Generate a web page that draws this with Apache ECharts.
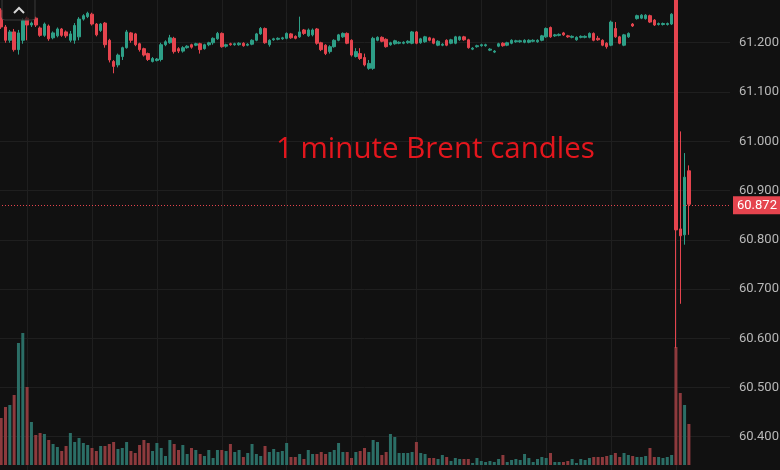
<!DOCTYPE html>
<html><head><meta charset="utf-8">
<script src="https://cdn.jsdelivr.net/npm/echarts@6/dist/echarts.min.js"></script>
<style>html,body{margin:0;padding:0;background:#111111;}#c{width:780px;height:470px;}</style>
</head><body><div id="c"></div>
<script>
// ---- data ----
const startTime = '09:39';
const slotCount = 169; // candle slots incl. empty right margin
// [open, close, low, high]
const candles = [
[61.266,61.232,61.228,61.270],[61.232,61.205,61.200,61.236],[61.205,61.222,61.200,61.226],[61.222,61.186,61.182,61.228],
[61.186,61.220,61.176,61.226],[61.205,61.245,61.198,61.250],[61.250,61.236,61.205,61.253],[61.236,61.240,61.232,61.243],
[61.250,61.236,61.232,61.253],[61.230,61.215,61.212,61.233],[61.215,61.238,61.212,61.241],[61.234,61.208,61.204,61.237],
[61.210,61.220,61.207,61.223],[61.214,61.228,61.211,61.231],[61.228,61.215,61.212,61.230],[61.222,61.214,61.210,61.225],
[61.205,61.218,61.201,61.224],[61.205,61.235,61.198,61.240],[61.212,61.248,61.205,61.252],[61.248,61.255,61.245,61.258],
[61.253,61.260,61.250,61.263],[61.258,61.238,61.235,61.261],[61.238,61.216,61.213,61.240],[61.225,61.238,61.222,61.240],
[61.240,61.196,61.190,61.242],[61.205,61.165,61.160,61.208],[61.162,61.152,61.138,61.165],[61.155,61.175,61.150,61.178],
[61.172,61.190,61.165,61.192],[61.190,61.222,61.188,61.226],[61.220,61.205,61.200,61.222],[61.218,61.196,61.193,61.220],
[61.198,61.186,61.182,61.200],[61.188,61.175,61.172,61.190],[61.178,61.166,61.163,61.180],[61.162,61.168,61.160,61.171],
[61.164,61.167,61.162,61.169],[61.166,61.196,61.162,61.200],[61.196,61.202,61.193,61.205],[61.200,61.210,61.198,61.216],
[61.209,61.182,61.178,61.212],[61.188,61.183,61.179,61.191],[61.183,61.190,61.180,61.193],[61.190,61.193,61.188,61.195],
[61.196,61.191,61.188,61.198],[61.195,61.198,61.193,61.200],[61.198,61.186,61.178,61.200],[61.188,61.196,61.186,61.198],
[61.196,61.200,61.193,61.202],[61.200,61.209,61.196,61.211],[61.208,61.219,61.206,61.222],[61.219,61.192,61.190,61.221],
[61.193,61.196,61.190,61.198],[61.198,61.196,61.194,61.200],[61.196,61.198,61.194,61.200],[61.196,61.199,61.194,61.201],
[61.199,61.194,61.192,61.201],[61.195,61.197,61.193,61.199],[61.197,61.205,61.195,61.207],[61.205,61.218,61.203,61.220],
[61.218,61.229,61.216,61.232],[61.229,61.200,61.198,61.231],[61.196,61.205,61.192,61.207],[61.206,61.208,61.204,61.210],
[61.207,61.209,61.205,61.211],[61.208,61.210,61.206,61.212],[61.209,61.219,61.207,61.221],[61.218,61.210,61.208,61.220],
[61.213,61.209,61.207,61.215],[61.212,61.222,61.210,61.253],[61.226,61.219,61.216,61.228],[61.214,61.226,61.212,61.229],
[61.216,61.226,61.213,61.229],[61.228,61.199,61.196,61.230],[61.200,61.186,61.183,61.202],[61.195,61.178,61.175,61.197],
[61.182,61.192,61.178,61.195],[61.192,61.205,61.190,61.207],[61.205,61.216,61.203,61.218],[61.212,61.219,61.210,61.221],
[61.219,61.199,61.197,61.221],[61.205,61.175,61.172,61.207],[61.172,61.182,61.170,61.189],[61.178,61.168,61.165,61.189],
[61.170,61.155,61.152,61.178],[61.148,61.158,61.145,61.165],[61.148,61.209,61.145,61.212],[61.205,61.211,61.203,61.213],
[61.211,61.203,61.201,61.213],[61.207,61.192,61.190,61.209],[61.196,61.200,61.194,61.202],[61.198,61.204,61.196,61.206],
[61.199,61.201,61.197,61.203],[61.199,61.201,61.197,61.203],[61.200,61.203,61.198,61.205],[61.199,61.222,61.197,61.224],
[61.222,61.199,61.197,61.224],[61.200,61.208,61.198,61.210],[61.202,61.212,61.200,61.214],[61.210,61.205,61.203,61.212],
[61.208,61.199,61.197,61.210],[61.195,61.203,61.193,61.205],[61.195,61.197,61.193,61.199],[61.205,61.195,61.193,61.207],
[61.199,61.206,61.197,61.208],[61.199,61.212,61.197,61.214],[61.206,61.212,61.204,61.214],[61.212,61.206,61.204,61.214],
[61.206,61.190,61.188,61.208],[61.187,61.189,61.185,61.191],[61.192,61.194,61.190,61.196],[61.194,61.196,61.192,61.198],
[61.194,61.196,61.192,61.198],[61.185,61.187,61.183,61.189],[61.181,61.183,61.179,61.185],[61.193,61.198,61.191,61.200],
[61.199,61.194,61.192,61.201],[61.195,61.200,61.193,61.202],[61.199,61.205,61.197,61.207],[61.202,61.204,61.200,61.206],
[61.202,61.204,61.200,61.206],[61.201,61.205,61.199,61.207],[61.201,61.205,61.199,61.207],[61.203,61.205,61.201,61.207],
[61.202,61.205,61.200,61.207],[61.205,61.214,61.203,61.216],[61.212,61.229,61.210,61.231],[61.231,61.212,61.210,61.233],
[61.214,61.216,61.212,61.218],[61.215,61.217,61.213,61.219],[61.220,61.216,61.214,61.222],[61.214,61.212,61.210,61.216],
[61.211,61.213,61.209,61.215],[61.206,61.211,61.204,61.213],[61.211,61.213,61.209,61.215],[61.211,61.213,61.209,61.215],
[61.211,61.219,61.209,61.221],[61.219,61.205,61.203,61.221],[61.209,61.206,61.204,61.214],[61.205,61.195,61.193,61.207],
[61.199,61.192,61.188,61.201],[61.195,61.242,61.193,61.245],[61.229,61.212,61.210,61.242],[61.212,61.199,61.197,61.214],
[61.195,61.216,61.193,61.218],[61.212,61.219,61.210,61.221],[61.238,61.234,61.232,61.240],[61.249,61.255,61.247,61.257],
[61.250,61.256,61.248,61.258],[61.249,61.256,61.247,61.258],[61.255,61.242,61.240,61.257],[61.246,61.236,61.234,61.248],
[61.237,61.239,61.235,61.241],[61.237,61.239,61.235,61.241],[61.237,61.239,61.235,61.241],[61.238,61.258,61.236,61.260],
[61.290,60.820,60.580,61.300],[60.822,60.808,60.670,61.020],[60.810,60.927,60.790,60.976],[60.940,60.872,60.810,60.951]
];
const volumes = [
47,58,60,70,122,132,78,43,30,32,31,25,21,18,14,19,32,23,27,22,
20,17,14,19,19,21,23,16,17,23,14,12,20,25,22,14,22,17,9,25,
21,15,20,11,17,15,11,9,15,7,15,15,14,21,13,15,8,12,21,11,
9,19,13,16,13,14,22,8,8,11,6,15,11,11,13,11,13,15,22,13,
13,7,13,14,17,13,25,23,10,13,31,28,12,12,12,13,23,12,11,7,
7,6,10,8,4,7,6,6,6,2,7,4,3,4,3,6,10,3,5,6,
5,11,7,3,6,8,7,12,3,3,3,4,6,2,6,5,7,8,8,8,
9,10,12,8,12,10,9,8,8,9,17,8,8,7,8,10,118,72,60,41
];
const priceMin = 60.3, priceMax = 61.3, priceStep = 0.1;
const lastPrice = 60.872;
const titleText = '1 minute Brent candles';

// ---- colours ----
const UP = '#2e9f87', DOWN = '#e5444e';
const UP_VOL = '#2b6e66', DOWN_VOL = '#8d3a3d';

// ---- categories (minute labels) ----
const times = [];
let [hh, mm] = startTime.split(':').map(Number);
for (let k = 0; k < slotCount; k++) {
  times.push(String(hh).padStart(2, '0') + ':' + String(mm).padStart(2, '0'));
  mm++; if (mm === 60) { mm = 0; hh++; }
}
const gridTimes = times.filter(t => Number(t.slice(3)) % 15 === 0);

const volData = volumes.map((v, k) => ({
  value: v,
  itemStyle: { color: candles[k][1] >= candles[k][0] ? UP_VOL : DOWN_VOL }
}));

const chart = echarts.init(document.getElementById('c'), null, { renderer: 'canvas' });
chart.setOption({
  animation: false,
  backgroundColor: '#111111',
  title: {
    text: titleText, left: 271, top: 130,
    textStyle: { color: '#e3161d', fontSize: 29.5, fontWeight: 'normal', fontFamily: 'Open Sans' }
  },
  grid: [
    { left: -1, right: 50, top: -6.5, bottom: -16, outerBoundsMode: 'none', containLabel: false },
    { left: -1, right: 50, top: 185, bottom: 5, outerBoundsMode: 'none', containLabel: false }
  ],
  xAxis: [
    { type: 'category', data: times, gridIndex: 0, boundaryGap: true, show: false },
    { type: 'category', data: times, gridIndex: 1, boundaryGap: true, show: false }
  ],
  yAxis: [
    {
      type: 'value', gridIndex: 0, position: 'right', min: priceMin, max: priceMax, interval: priceStep,
      axisLine: { show: false }, axisTick: { show: false },
      splitLine: { show: true, lineStyle: { color: '#1f1f1f', width: 1 } },
      axisLabel: {
        color: '#b8b8b8', fontSize: 13, fontFamily: 'Roboto', margin: 9,
        showMinLabel: false, showMaxLabel: false,
        formatter: v => v.toFixed(3)
      }
    },
    { type: 'value', gridIndex: 1, min: 0, max: 280, show: false, splitLine: { show: false } }
  ],
  graphic: [
    { type: 'rect', z: 100, shape: { x: 2, y: -3, width: 33, height: 23, r: 3 },
      style: { fill: 'rgba(18,18,18,0.7)', stroke: '#3a3a3a', lineWidth: 1 } },
    { type: 'polyline', z: 101, shape: { points: [[14, 13], [19, 8], [24, 13]] },
      style: { stroke: '#d6d6d6', lineWidth: 2, fill: null } }
  ],
  series: [
    {
      name: 'grid', type: 'line', data: [], xAxisIndex: 0, yAxisIndex: 0, z: 0, silent: true,
      markLine: {
        z: 0, silent: true, symbol: ['none', 'none'], label: { show: false },
        lineStyle: { color: '#1f1f1f', type: 'solid', width: 1 },
        emphasis: { disabled: true },
        data: gridTimes.map(t => ({ xAxis: t }))
      }
    },
    {
      name: 'volume', type: 'bar', xAxisIndex: 1, yAxisIndex: 1, barWidth: 3, data: volData, z: 1,
      markLine: {
        silent: true, symbol: ['none', 'none'],
        lineStyle: { opacity: 0 },
        label: {
          position: 'end', distance: 3, formatter: String(volumes[volumes.length - 1]),
          backgroundColor: DOWN, color: '#ffffff', padding: [2, 7, 2, 7], fontSize: 13, fontFamily: 'Roboto'
        },
        data: [{ yAxis: volumes[volumes.length - 1] }]
      }
    },
    {
      name: 'Brent', type: 'candlestick', xAxisIndex: 0, yAxisIndex: 0, barWidth: 3, data: candles, z: 2,
      itemStyle: { color: UP, color0: DOWN, borderColor: UP, borderColor0: DOWN, borderWidth: 1 },
      markLine: {
        silent: true, symbol: ['none', 'none'],
        lineStyle: { color: DOWN, type: [1, 2], width: 1 },
        label: {
          position: 'end', distance: 3, formatter: lastPrice.toFixed(3),
          backgroundColor: DOWN, color: '#ffffff', padding: [3, 4, 2, 4], fontSize: 13, fontFamily: 'Roboto'
        },
        data: [{ yAxis: lastPrice }]
      }
    }
  ]
});
</script></body></html>
